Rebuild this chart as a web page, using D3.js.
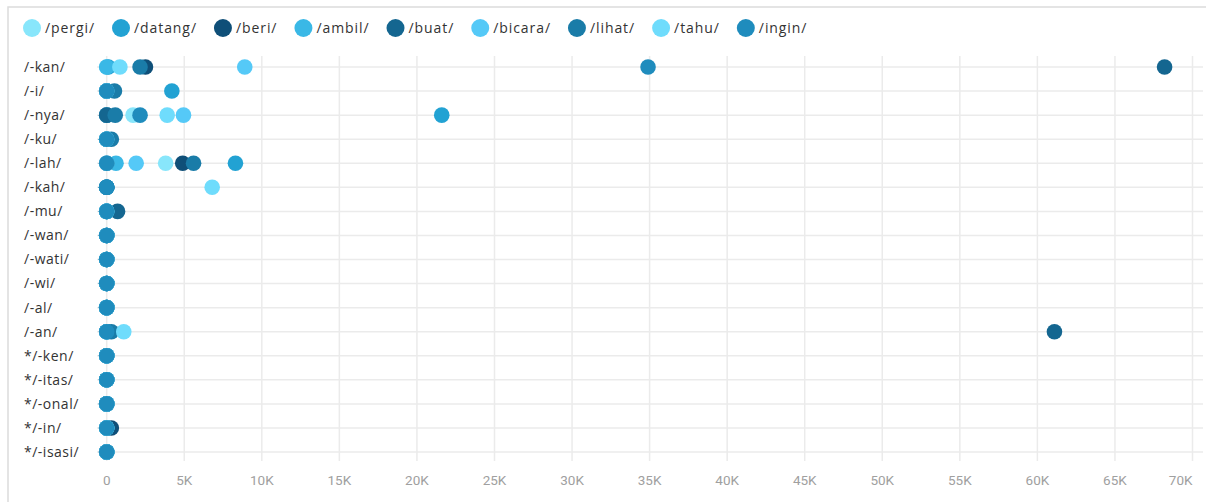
<!DOCTYPE html>
<html>
<head>
<meta charset="utf-8">
<title>Suffix dot plot</title>
<script src="https://cdn.jsdelivr.net/npm/d3@7"></script>
<style>
    body { margin: 0; background: #fff; }
    svg { display: block; font-family: "Open Sans", Roboto, sans-serif; }
    .grid line { stroke: #ebebeb; stroke-width: 1.5px; }
    .ylab { font-size: 14px; fill: #333; letter-spacing: 0.5px; }
    .xlab { font-size: 13.5px; fill: #a0a0a0; font-family: Roboto, sans-serif; }
    .leg text { font-size: 14px; fill: #333; letter-spacing: 0.92px; }
</style>
</head>
<body>
<div id="chart"></div>
<script>

// rows (suffixes), top to bottom
var suffixes = ["/-kan/", "/-i/", "/-nya/", "/-ku/", "/-lah/", "/-kah/", "/-mu/", "/-wan/", "/-wati/",
                "/-wi/", "/-al/", "/-an/", "*/-ken/", "*/-itas/", "*/-onal/", "*/-in/", "*/-isasi/"];

// series, in legend / draw order
var verbs  = ["/pergi/", "/datang/", "/beri/", "/ambil/", "/buat/", "/bicara/", "/lihat/", "/tahu/", "/ingin/"];
var colors = ["#88e6fb", "#22a2d3", "#0f4f78", "#3ab8e6", "#146690", "#55c9f7", "#1a7ca8", "#6fdcfc", "#1f8cbd"];

// counts per verb, one value per suffix row (same order as suffixes)
var pergi  = [0,    0,    1700,  0,   3800, 0,    0,   0, 0, 0, 0, 0,     0, 0, 0, 0,   0];
var datang = [100,  4200, 21600, 0,   8300, 0,    0,   0, 0, 0, 0, 0,     0, 0, 0, 0,   0];
var beri   = [2500, 0,    0,     0,   4900, 0,    0,   0, 0, 0, 0, 0,     0, 0, 0, 300, 0];
var ambil  = [0,    0,    0,     0,   600,  0,    0,   0, 0, 0, 0, 0,     0, 0, 0, 0,   0];
var buat   = [68200,0,    0,     0,   0,    0,    700, 0, 0, 0, 0, 61100, 0, 0, 0, 0,   0];
var bicara = [8900, 0,    4950,  0,   1900, 0,    0,   0, 0, 0, 0, 0,     0, 0, 0, 0,   0];
var lihat  = [2150, 500,  550,   300, 5600, 0,    0,   0, 0, 0, 0, 300,   0, 0, 0, 0,   0];
var tahu   = [850,  0,    3900,  0,   0,    6800, 0,   0, 0, 0, 0, 1100,  0, 0, 0, 0,   0];
var ingin  = [34900,0,    2150,  0,   0,    0,    0,   0, 0, 0, 0, 0,     0, 0, 0, 0,   0];

var seriesValues = [pergi, datang, beri, ambil, buat, bicara, lihat, tahu, ingin];

var xTicks = [0, 5000, 10000, 15000, 20000, 25000, 30000, 35000, 40000, 45000, 50000, 55000, 60000, 65000, 70000];

var width = 1206, height = 502;

var svg = d3.select("#chart").append("svg")
    .attr("width", width)
    .attr("height", height);

// outer frame
svg.append("rect")
    .attr("x", 8).attr("y", 7)
    .attr("width", width + 20).attr("height", height + 20)
    .attr("fill", "none")
    .attr("stroke", "#dcdcdc")
    .attr("stroke-width", 1.5);

var x = d3.scaleLinear()
    .domain([0, 70000])
    .range([106.7, 1192.5]);

var y = d3.scalePoint()
    .domain(suffixes)
    .range([67, 452]);

// gridlines
var grid = svg.append("g").attr("class", "grid");

grid.selectAll(".hline")
    .data(suffixes)
  .enter().append("line")
    .attr("x1", 97).attr("x2", 1203)
    .attr("y1", function(d) { return y(d); })
    .attr("y2", function(d) { return y(d); });

grid.selectAll(".vline")
    .data(xTicks)
  .enter().append("line")
    .attr("x1", function(d) { return x(d); })
    .attr("x2", function(d) { return x(d); })
    .attr("y1", 56).attr("y2", 461);

// row labels
svg.selectAll(".ylab")
    .data(suffixes)
  .enter().append("text")
    .attr("class", "ylab")
    .attr("x", 24)
    .attr("y", function(d) { return y(d); })
    .attr("dy", "0.35em")
    .text(function(d) { return d; });

// x tick labels, last one pulled inside the frame
var fmt = function(d) { return d === 0 ? "0" : (d / 1000) + "K"; };
svg.selectAll(".xlab")
    .data(xTicks)
  .enter().append("text")
    .attr("class", "xlab")
    .attr("x", function(d) { return x(d); })
    .attr("y", 485)
    .attr("text-anchor", function(d, i) { return i === xTicks.length - 1 ? "end" : "middle"; })
    .text(fmt);

// dots, one group per verb
var dots = svg.append("g");
verbs.forEach(function(v, i) {
    var pts = seriesValues[i].map(function(val, j) { return { row: suffixes[j], value: val }; });
    dots.append("g")
        .selectAll("circle")
        .data(pts)
      .enter().append("circle")
        .attr("cx", function(d) { return x(d.value); })
        .attr("cy", function(d) { return y(d.row); })
        .attr("r", 7.8)
        .attr("fill", colors[i]);
});

// legend
var leg = svg.append("g").attr("class", "leg");
var lx = 32;
verbs.forEach(function(v, i) {
    var item = leg.append("g");
    item.append("circle")
        .attr("cx", lx).attr("cy", 28).attr("r", 9)
        .attr("fill", colors[i]);
    var t = item.append("text")
        .attr("x", lx + 13).attr("y", 28)
        .attr("dy", "0.35em")
        .text(v);
    lx = lx + 13 + t.node().getComputedTextLength() + 26;
});

</script>
</body>
</html>
